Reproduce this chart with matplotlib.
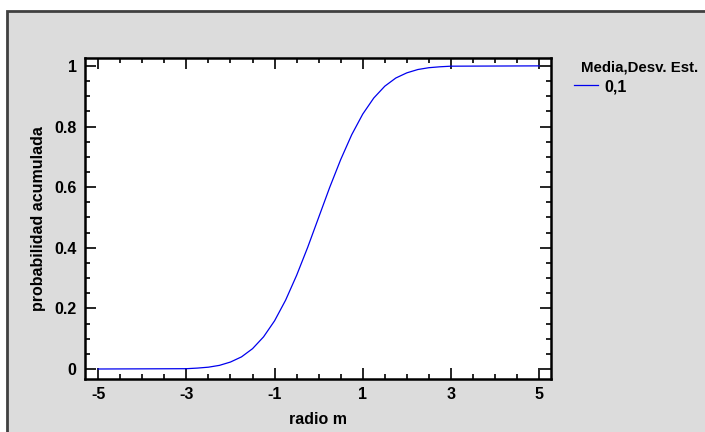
import matplotlib
matplotlib.use("Agg")
import matplotlib.pyplot as plt
from matplotlib.patches import Rectangle
from matplotlib.ticker import MultipleLocator

# cumulative probability (mean 0, sd 1)
radio = [-5, -3, -2.75, -2.5, -2.25, -2, -1.75, -1.5, -1.25, -1, -0.75, -0.5,
         -0.25, 0, 0.25, 0.5, 0.75, 1, 1.25, 1.5, 1.75, 2, 2.25, 2.5, 2.75,
         3, 5]
prob = [0.0, 0.001, 0.003, 0.006, 0.012, 0.023, 0.040, 0.067, 0.106, 0.159,
        0.227, 0.309, 0.401, 0.5, 0.599, 0.691, 0.773, 0.841, 0.894, 0.933,
        0.960, 0.977, 0.988, 0.994, 0.997, 0.999, 1.0]
x_ticks = [-5, -3, -1, 1, 3, 5]
y_ticks = [0, 0.2, 0.4, 0.6, 0.8, 1]
y_tick_labels = ["0", "0.2", "0.4", "0.6", "0.8", "1"]
series_label = "0,1"
legend_title = "Media,Desv. Est."

plt.rcParams["font.family"] = ["Liberation Sans", "DejaVu Sans"]
plt.rcParams["font.weight"] = "bold"
FS = 11.5

W, H = 705, 432
fig = plt.figure(figsize=(W / 100, H / 100), dpi=100)
fig.patch.set_facecolor("white")

# grey panel with dark frame on the top/left
fig.add_artist(Rectangle((7 / W, -0.05), 1.1, 1 - 11 / H + 0.05,
                         transform=fig.transFigure, facecolor="#dcdcdc",
                         edgecolor="#404040", linewidth=2, zorder=0))

ax = fig.add_axes([85 / W, 1 - 379 / H, (551 - 85) / W, (379 - 58) / H])
ax.set_facecolor("white")
ax.plot(radio, prob, color="#0000ee", linewidth=0.9, label=series_label)

ax.set_xlim(-5.3, 5.27)
ax.set_ylim(-0.033, 1.026)
ax.set_xticks(x_ticks)
ax.set_xticklabels([str(t) for t in x_ticks])
ax.set_yticks(y_ticks)
ax.set_yticklabels(y_tick_labels)
ax.xaxis.set_minor_locator(MultipleLocator(0.5))
ax.yaxis.set_minor_locator(MultipleLocator(0.05))
ax.tick_params(which="both", direction="in", top=True, right=True,
               width=1.2, colors="black", labelsize=FS)
ax.tick_params(which="major", length=8, pad=6)
ax.tick_params(which="minor", length=3.5)
for s in ax.spines.values():
    s.set_linewidth(1.8)

ax.set_xlabel("radio m", fontsize=FS, fontweight="bold", labelpad=7)
ax.set_ylabel("probabilidad acumulada", fontsize=FS, fontweight="bold",
              labelpad=6)

# legend title is squeezed a little so it stays inside the picture
fig.text(581 / W, 1 - 67 / H, legend_title, fontsize=10.8, fontweight="bold",
         ha="left", va="center")
fig.legend(loc="upper left", bbox_to_anchor=(574 / W, 1 - 79 / H),
           frameon=False, fontsize=FS, handlelength=1.5, handletextpad=0.4,
           borderaxespad=0, borderpad=0)

fig.savefig("out.png", dpi=100)
